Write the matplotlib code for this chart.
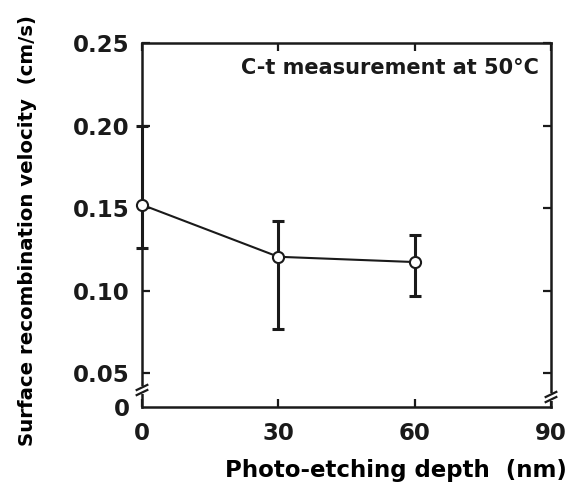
import matplotlib
matplotlib.use("Agg")
import matplotlib.pyplot as plt
import matplotlib.lines as mlines
import numpy as np

depth = [0, 30, 60]
velocity = [0.152, 0.1205, 0.1173]
err_low = [0.126, 0.077, 0.0965]
err_high = [0.200, 0.142, 0.1335]

x_ticks = [0, 30, 60, 90]
y_ticks = [0.05, 0.10, 0.15, 0.20, 0.25]
y_tick_labels = ["0.05", "0.10", "0.15", "0.20", "0.25"]
y_bottom = 0.0295
annotation = "C-t measurement at 50\u00b0C"

plt.rcParams['font.family'] = ['DejaVu Sans']
plt.rcParams['font.weight'] = 'bold'

W, H = 578, 483
fig = plt.figure(figsize=(W/100, H/100), dpi=100)
ax = fig.add_axes([142/W, 1-407/H, (551-142)/W, (407-43)/H])

ink = '#1a1a1a'
v = np.array(velocity)
yerr = np.array([v - np.array(err_low), np.array(err_high) - v])
ax.errorbar(depth, velocity, yerr=yerr, fmt='none', ecolor=ink,
            elinewidth=2.2, capsize=4.3, capthick=2.2, zorder=2, clip_on=False)
ax.plot(depth, velocity, color=ink, lw=1.5, marker='o', ms=8,
        mfc='white', mec=ink, mew=1.5, zorder=3, clip_on=False)

ax.set_xlim(0, 90)
ax.set_ylim(y_bottom, 0.25)
for s in ax.spines.values():
    s.set_linewidth(1.8)
    s.set_color(ink)

ax.set_xticks(x_ticks)
ax.set_xticklabels([str(t) for t in x_ticks])
ax.set_yticks([y_bottom] + y_ticks)
ax.set_yticklabels(["0"] + y_tick_labels)
ax.tick_params(axis='x', direction='in', length=6, width=1.6, top=True,
               labelsize=16.5, pad=11, colors=ink)
ax.tick_params(axis='y', direction='in', length=6, width=1.6, right=True,
               labelsize=16.5, pad=9, colors=ink)
ax.yaxis.get_major_ticks()[0].tick1line.set_visible(False)
ax.yaxis.get_major_ticks()[0].tick2line.set_visible(False)

ax.set_xlabel("Photo-etching depth  (nm)", fontsize=16.5, fontweight='bold')
ax.xaxis.set_label_coords((396-142)/(551-142), -(470-407)/364, transform=ax.transAxes)
ax.xaxis.label.set_va('center')
ax.set_ylabel("Surface recombination velocity  (cm/s)", fontsize=14.2, fontweight='bold')
ax.yaxis.set_label_coords(-(142-28)/(551-142), (407-230)/364, transform=ax.transAxes)
ax.yaxis.label.set_va('center')
ax.text(539, H-68, annotation, transform=None, ha='right', va='center',
        fontsize=15, fontweight='bold', color=ink)

# axis break marks
def brk(xa, ya):
    ax.plot([xa, xa], [ya - 0.012, ya + 0.012], transform=ax.transAxes, color='white',
            lw=3, clip_on=False, zorder=4, solid_capstyle='butt')
    for dy in (-0.007, 0.007):
        ax.plot([xa - 0.013, xa + 0.013], [ya + dy - 0.007, ya + dy + 0.007],
                transform=ax.transAxes, color=ink, lw=1.6, clip_on=False, zorder=5)

brk(0.0, (407 - 390) / 364)
brk(1.0, (407 - 397) / 364)

fig.savefig("out.png", dpi=100)
